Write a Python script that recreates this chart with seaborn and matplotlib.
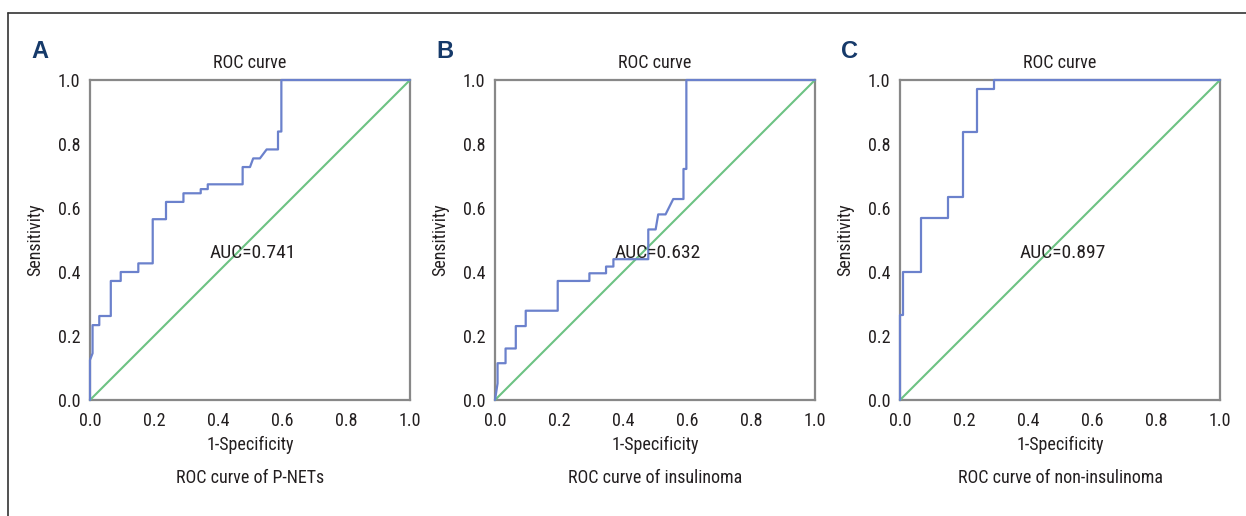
import numpy as np
import pandas as pd
import seaborn as sns
import matplotlib.pyplot as plt
from matplotlib.lines import Line2D

# ROC curve points (1-specificity, sensitivity)
fpr_pnets = [0.0, 0.0, 0.008, 0.008, 0.029, 0.029, 0.065, 0.065, 0.096, 0.096, 0.151, 0.151,
             0.196, 0.196, 0.2375, 0.2375, 0.292, 0.292, 0.346, 0.346, 0.368, 0.368, 0.477, 0.477,
             0.5, 0.51, 0.531, 0.552, 0.5875, 0.5875, 0.598, 0.598, 1.0]
tpr_pnets = [0.0, 0.125, 0.146, 0.234, 0.234, 0.2625, 0.2625, 0.372, 0.372, 0.4, 0.4, 0.427,
             0.427, 0.565, 0.565, 0.619, 0.619, 0.646, 0.646, 0.659, 0.659, 0.674, 0.674, 0.728,
             0.728, 0.755, 0.755, 0.783, 0.783, 0.839, 0.839, 1.0, 1.0]

fpr_ins = [0.0, 0.008, 0.008, 0.033, 0.033, 0.065, 0.065, 0.096, 0.096, 0.196, 0.196, 0.295,
           0.295, 0.347, 0.347, 0.37, 0.37, 0.479, 0.479, 0.502, 0.51, 0.533, 0.557, 0.589,
           0.589, 0.598, 0.598, 1.0]
tpr_ins = [0.0, 0.052, 0.115, 0.115, 0.161, 0.161, 0.231, 0.231, 0.279, 0.279, 0.372, 0.372,
           0.396, 0.396, 0.417, 0.417, 0.44, 0.44, 0.533, 0.533, 0.58, 0.58, 0.628, 0.628,
           0.722, 0.722, 1.0, 1.0]

fpr_non = [0.0, 0.0, 0.008, 0.008, 0.065, 0.065, 0.151, 0.151, 0.196, 0.196, 0.24, 0.24,
           0.295, 0.295, 1.0]
tpr_non = [0.0, 0.266, 0.266, 0.4, 0.4, 0.568, 0.568, 0.635, 0.635, 0.8375, 0.8375, 0.971,
           0.971, 1.0, 1.0]

panels = ["A", "B", "C"]
auc_values = ["0.741", "0.632", "0.897"]
subtitles = ["ROC curve of P-NETs", "ROC curve of insulinoma", "ROC curve of non-insulinoma"]
curves = [(fpr_pnets, tpr_pnets), (fpr_ins, tpr_ins), (fpr_non, tpr_non)]
diag = [0.0, 1.0]
ticks = [0.0, 0.2, 0.4, 0.6, 0.8, 1.0]

sns.set_style("white")
plt.rcParams['font.family'] = ['Roboto Condensed', 'Liberation Sans Narrow', 'DejaVu Sans']
plt.rcParams['font.stretch'] = 'condensed'

fig = plt.figure(figsize=(12.46, 5.16), dpi=100)
W, H = 1246, 516
lefts = [90, 495, 900]
fs = 13
txt = "#231f20"

for i, left in enumerate(lefts):
    ax = fig.add_axes([left / W, 1 - 400 / H, 320 / W, 320 / H])
    fpr, tpr = curves[i]
    df = pd.DataFrame({"fpr": fpr, "tpr": tpr})
    sns.lineplot(x=diag, y=diag, ax=ax, color="#6cc283", linewidth=1.5)
    sns.lineplot(data=df, x="fpr", y="tpr", ax=ax, sort=False, estimator=None,
                 color="#6b81cc", linewidth=1.6)
    for ln in ax.lines:
        ln.set_clip_on(False)
        ln.set_zorder(3)
    ax.set_xlim(0, 1)
    ax.set_ylim(0, 1)
    ax.set_xticks(ticks)
    ax.set_yticks(ticks)
    ax.set_xticklabels([f"{t:.1f}" for t in ticks], fontsize=fs, color=txt)
    ax.set_yticklabels([f"{t:.1f}" for t in ticks], fontsize=fs, color=txt)
    ax.tick_params(length=4, width=1.2, color="#777777", pad=3)
    ax.tick_params(axis="x", pad=5)
    for sp in ax.spines.values():
        sp.set_color("#888888")
        sp.set_linewidth(1.6)
        sp.set_zorder(2)
    ax.set_xlabel("1-Specificity", fontsize=fs, color=txt, labelpad=4)
    ax.set_ylabel("Sensitivity", fontsize=fs, color=txt, labelpad=10)
    ax.set_title("ROC curve", fontsize=fs, color=txt, pad=9)
    ax.text(0.51, 0.458, "AUC=" + auc_values[i], fontsize=14, color=txt,
            ha="center", va="center")
    ax.text(0.5, -0.245, subtitles[i], transform=ax.transAxes, fontsize=fs,
            color=txt, ha="center", va="center")
    fig.text((left - 50) / W, 1 - 51 / H, panels[i], fontsize=17, fontweight="bold",
             color="#163a6a", ha="center", va="center", stretch="normal",
             family=['Liberation Sans', 'DejaVu Sans'])

# outer frame lines (top and left)
fig.add_artist(Line2D([8 / W, 1.0], [1 - 13 / H, 1 - 13 / H], color="#333333", linewidth=1.2))
fig.add_artist(Line2D([8 / W, 8 / W], [0.0, 1 - 13 / H], color="#333333", linewidth=1.2))

fig.savefig("out.png", dpi=100)
